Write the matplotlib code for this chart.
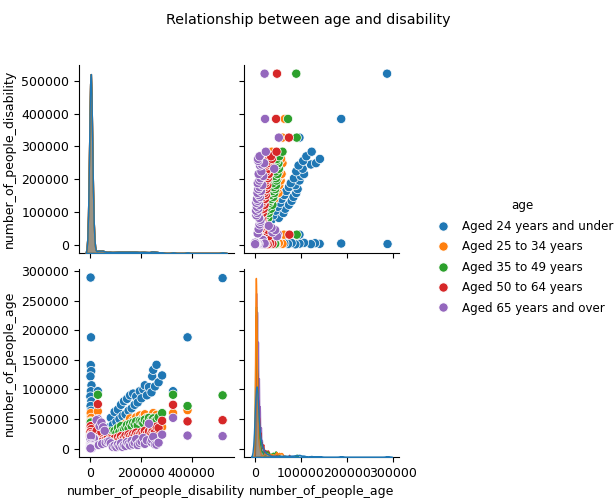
import numpy as np
import pandas as pd
import matplotlib
matplotlib.use("Agg")
import matplotlib.pyplot as plt
import seaborn as sns

# =====================================================
# DATA (read off the reference pairplot)
# one row = one area; row_repeats = how many areas share it
# =====================================================

disability = [
    1000, 2000, 3000, 4500, 6000, 8000, 11000, 15000,
    2500, 4000, 3000, 5000, 2000, 6000, 3500, 1500, 5500, 2500, 4500, 3000, 6500, 2000,
    31000, 26000, 38000, 45000, 52000, 58000, 35000, 48000, 62000, 70000,
    76000, 82000, 90000, 97000, 104000, 110000, 116000, 122000, 128000, 134000,
    140000, 146000, 152000, 158000, 164000, 170000, 176000, 182000, 188000, 196000,
    203000, 210000, 216000, 224000, 232000, 242000, 245000, 249000, 256000, 262000,
    270000, 284000,
    327000, 384000, 522000,
]

aged_24_and_under = [
    1500, 3000, 5000, 8000, 12000, 17000, 23000, 30000,
    289000, 188000, 141000, 131000, 122000, 107000, 97000, 88000, 80000, 72000, 64000, 55000, 47000, 41000,
    97000, 40000, 22000, 30000, 18000, 14000, 12000, 16000, 20000, 26000,
    36000, 52000, 40000, 62000, 45000, 66000, 50000, 74000, 55000, 80000,
    58000, 84000, 64000, 90000, 68000, 93000, 74000, 88000, 78000, 97000,
    85000, 100000, 107000, 90000, 104000, 95000, 122000, 133000, 105000, 141600,
    112000, 123600,
    97000, 188000, 288000,
]

aged_25_to_34 = [
    1000, 1800, 2600, 3500, 4500, 6000, 8000, 10000,
    47000, 58000, 60000, 52000, 46000, 42000, 38000, 34000, 31000, 28000, 26000, 24000, 22000, 20000,
    63000, 28000, 15000, 20000, 12000, 10000, 8000, 11000, 14000, 17000,
    18000, 22000, 25000, 29000, 21000, 30000, 34000, 26000, 38000, 33000,
    42000, 36000, 45000, 51000, 40000, 48000, 44000, 53000, 47000, 56000,
    50000, 54000, 58000, 52000, 47000, 55000, 57000, 60000, 53000, 57000,
    45000, 36400,
    60000, 65000, 48000,
]

aged_35_to_49 = [
    1200, 2200, 3500, 5000, 7000, 9500, 12000, 16000,
    40000, 45000, 44000, 38000, 35000, 30000, 28000, 26000, 24000, 22000, 25000, 27000, 24000, 23000,
    91000, 33000, 18000, 26000, 14000, 11000, 10000, 13000, 16000, 21000,
    27000, 29000, 24000, 30000, 26000, 35000, 28000, 38000, 31000, 32000,
    36000, 40000, 34000, 42000, 38000, 44000, 41000, 46000, 39000, 47000,
    46000, 43000, 49000, 45000, 52000, 49000, 44000, 51000, 47000, 48000,
    53000, 60000,
    91000, 72000, 90000,
]

aged_50_to_64 = [
    1500, 3000, 5000, 7000, 9000, 11500, 14000, 18000,
    30000, 36000, 38000, 33000, 28000, 25000, 22000, 20000, 18000, 16000, 14000, 12000, 10000, 9000,
    75000, 30000, 22000, 28000, 16000, 12000, 9000, 12000, 15000, 18000,
    14000, 16000, 13000, 17000, 12000, 19000, 15000, 21000, 16000, 18000,
    22000, 17000, 24000, 21000, 19000, 25000, 22000, 27000, 23000, 24000,
    28000, 26000, 30000, 25000, 29000, 26000, 31000, 33000, 28000, 37000,
    35000, 47000,
    74000, 46000, 48000,
]

aged_65_and_over = [
    2500, 4500, 6500, 8500, 10500, 13000, 15000, 17000,
    16000, 21000, 8000, 6000, 4000, 3000, 2000, 1500, 1200, 1000, 800, 600, 500, 400,
    50000, 48000, 38000, 44000, 36000, 30000, 6000, 8000, 10000, 12000,
    12000, 9000, 3000, 5000, 2500, 7000, 4000, 9000, 3000, 6000,
    4500, 11000, 8000, 5500, 13000, 7000, 10000, 16000, 6000, 9500,
    12000, 18000, 8000, 14000, 42000, 11000, 15000, 20000, 7000, 6700,
    10000, 23600,
    52000, 22000, 21000,
]

row_repeats = [
    90, 80, 60, 40, 25, 15, 8, 5,
    1, 1, 1, 1, 1, 1, 1, 1, 1, 1, 1, 1, 1, 1,
    1, 1, 1, 1, 1, 1, 2, 2, 1, 1,
    1, 1, 1, 1, 1, 1, 1, 1, 1, 1,
    1, 1, 1, 1, 1, 1, 1, 1, 1, 1,
    1, 1, 1, 1, 1, 1, 1, 1, 1, 1,
    1, 1,
    1, 1, 1,
]

age_groups = [
    "Aged 24 years and under",
    "Aged 25 to 34 years",
    "Aged 35 to 49 years",
    "Aged 50 to 64 years",
    "Aged 65 years and over",
]

age_counts = [
    aged_24_and_under,
    aged_25_to_34,
    aged_35_to_49,
    aged_50_to_64,
    aged_65_and_over,
]

# =====================================================
# LONG FORMAT
# =====================================================

frames = []

for group, counts in zip(age_groups, age_counts):

    part = pd.DataFrame({
        "number_of_people_disability": np.repeat(disability, row_repeats),
        "number_of_people_age": np.repeat(counts, row_repeats),
        "age": group,
    })

    frames.append(part)

df = pd.concat(frames, ignore_index=True)

# =====================================================
# PLOT
# =====================================================

plt.rcParams["font.size"] = 9

g = sns.pairplot(
    df,
    hue="age",
    height=2.5,
    plot_kws=dict(s=44),
    diag_kws=dict(bw_adjust=0.3),
)

g.figure.set_size_inches(6.16, 5.01)

g.figure.subplots_adjust(
    left=0.128,
    right=0.648,
    bottom=0.088,
    top=0.870,
    wspace=0.065,
    hspace=0.085,
)

sns.move_legend(
    g,
    loc="center left",
    bbox_to_anchor=(0.682, 0.487),
    frameon=False,
    fontsize=8.6,
    title_fontsize=8.6,
    handletextpad=0.6,
    labelspacing=0.62,
)

g.figure.suptitle(
    "Relationship between age and disability",
    fontsize=10.3,
    y=0.96,
    va="center",
)

g.figure.savefig("out.png", dpi=100)
